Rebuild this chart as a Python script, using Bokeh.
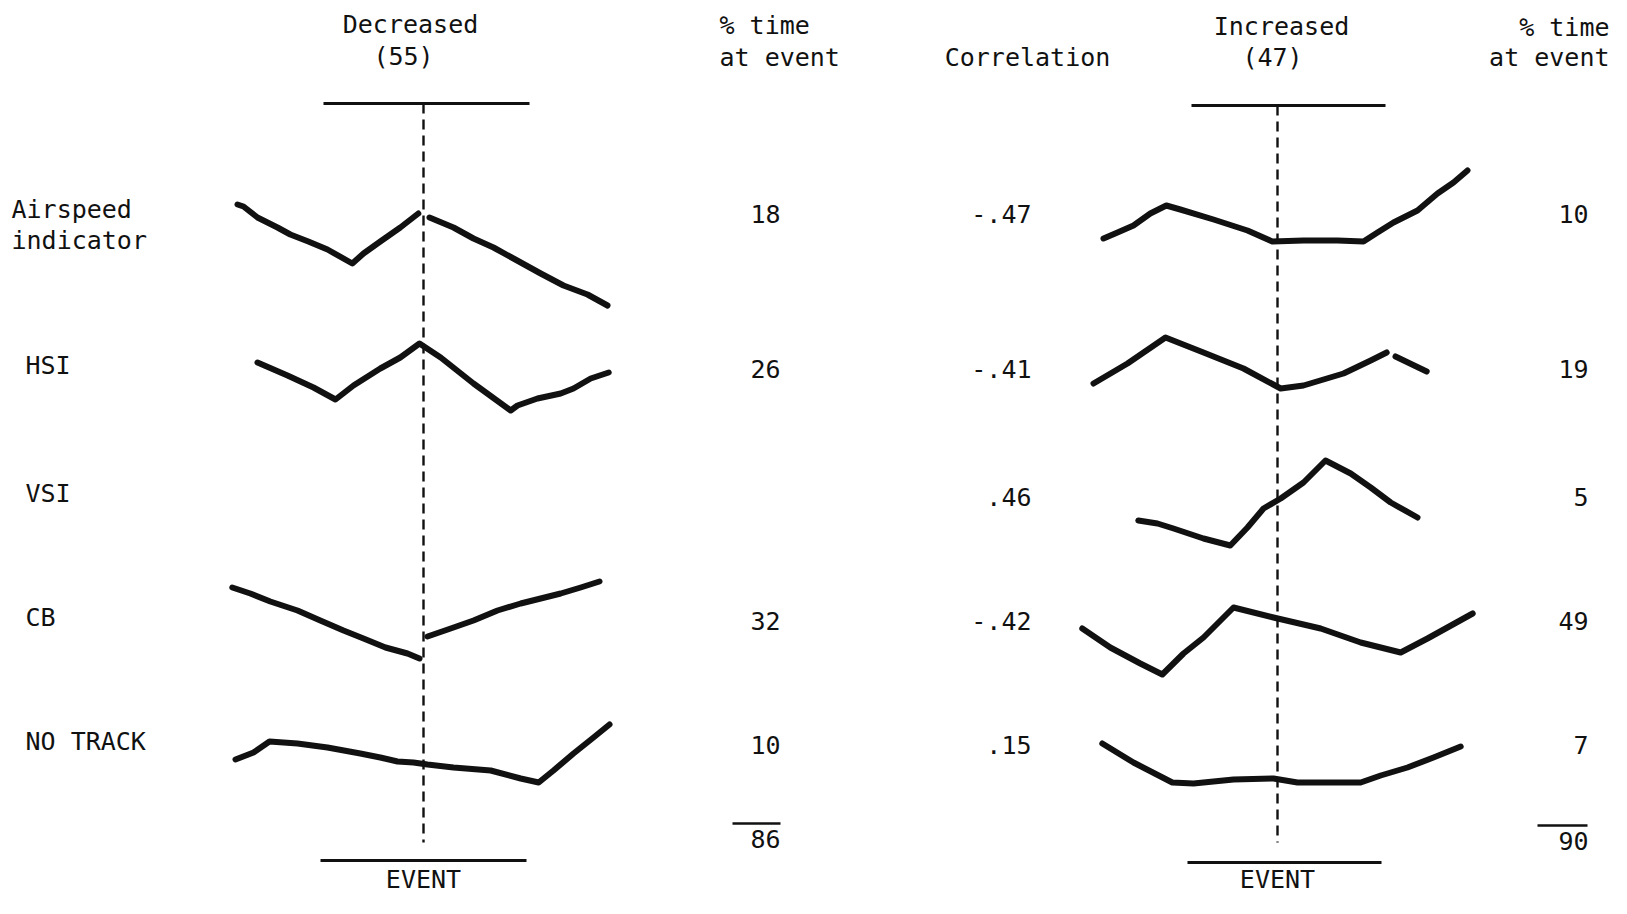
from bokeh.plotting import figure
from bokeh.models import Range1d
from bokeh.embed import file_html
from bokeh.resources import INLINE
from bokeh.core.properties import value

# ---------------- data ----------------
instruments = ["Airspeed indicator", "HSI", "VSI", "CB", "NO TRACK"]
n_decreased = 55
n_increased = 47
pct_decreased = [18, 26, None, 32, 10]
pct_decreased_total = 86
correlation = [-0.47, -0.41, 0.46, -0.42, 0.15]
pct_increased = [10, 19, 5, 49, 7]
pct_increased_total = 90

# Time relative to the event (arbitrary units) and relative fixation level,
# one list per drawn stroke (segments separated at gaps in the original).
dec_airspeed_t = [[-4.65, -4.5, -4.15, -3.65, -3.33, -2.88, -2.4, -1.78, -1.5, -1.08, -0.58, -0.13],
                  [0.15, 0.75, 1.25, 1.75, 2.25, 2.93, 3.5, 4.1, 4.6]]
dec_airspeed_v = [[0.9, 0.7, -0.4, -1.4, -2.1, -2.8, -3.6, -5.0, -4.0, -2.8, -1.4, 0.0],
                  [-0.4, -1.4, -2.5, -3.4, -4.5, -6.0, -7.2, -8.1, -9.2]]

dec_hsi_t = [[-4.15, -3.4, -2.75, -2.2, -1.75, -1.08, -0.58, -0.1, 0.43, 1.25, 2.18, 2.35, 2.85, 3.43, 3.75, 4.18, 4.63]]
dec_hsi_v = [[0.6, -0.7, -1.9, -3.1, -1.7, 0.0, 1.1, 2.5, 1.1, -1.5, -4.2, -3.7, -3.0, -2.5, -2.0, -1.0, -0.4]]

dec_vsi_t = []
dec_vsi_v = []

dec_cb_t = [[-4.78, -4.33, -3.83, -3.15, -2.58, -2.0, -1.5, -0.95, -0.4, -0.1],
            [0.1, 0.68, 1.25, 1.85, 2.43, 2.93, 3.43, 3.93, 4.4]]
dec_cb_v = [[3.3, 2.7, 1.9, 1.0, 0.0, -1.0, -1.8, -2.7, -3.3, -3.8],
            [-1.6, -0.8, 0.0, 1.0, 1.7, 2.2, 2.7, 3.3, 3.9]]

dec_notrack_t = [[-4.7, -4.25, -3.85, -3.15, -2.4, -1.58, -1.08, -0.65, -0.25, 0.1, 0.75, 1.68, 2.43, 2.88, 3.25, 3.75, 4.25, 4.65]]
dec_notrack_v = [[-1.5, -0.8, 0.3, 0.1, -0.3, -0.9, -1.3, -1.7, -1.8, -2.0, -2.3, -2.6, -3.4, -3.8, -2.6, -0.9, 0.7, 2.0]]

inc_airspeed_t = [[-4.35, -4.0, -3.6, -3.18, -2.78, -2.43, -1.6, -0.75, -0.13, 0.65, 1.5, 2.15, 2.5, 2.9, 3.5, 4.0, 4.4, 4.75]]
inc_airspeed_v = [[-2.5, -1.9, -1.2, 0.0, 0.8, 0.4, -0.6, -1.7, -2.8, -2.7, -2.7, -2.8, -1.9, -0.9, 0.3, 2.0, 3.1, 4.3]]

inc_hsi_t = [[-4.6, -3.75, -2.8, -1.85, -0.85, 0.08, 0.65, 1.65, 2.33, 2.73],
             [2.95, 3.73]]
inc_hsi_v = [[-1.5, 0.5, 3.1, 1.6, 0.0, -2.0, -1.7, -0.5, 0.8, 1.6],
             [1.2, -0.3]]

inc_vsi_t = [[-3.48, -3.0, -2.6, -1.85, -1.18, -0.75, -0.35, 0.08, 0.65, 1.2, 1.83, 2.33, 2.83, 3.5]]
inc_vsi_v = [[-2.4, -2.7, -3.2, -4.2, -4.9, -3.1, -1.2, -0.2, 1.4, 3.6, 2.3, 0.9, -0.6, -2.1]]

inc_cb_t = [[-4.88, -4.18, -3.43, -2.88, -2.35, -1.85, -1.1, -0.1, 1.08, 2.08, 3.08, 3.75, 4.88]]
inc_cb_v = [[-0.8, -2.7, -4.3, -5.4, -3.3, -1.7, 1.3, 0.3, -0.8, -2.2, -3.2, -1.8, 0.7]]

inc_notrack_t = [[-4.38, -3.6, -2.63, -2.1, -1.1, -0.1, 0.5, 2.08, 2.58, 3.25, 3.9, 4.58]]
inc_notrack_v = [[0.1, -1.8, -3.8, -3.9, -3.5, -3.4, -3.8, -3.8, -3.1, -2.3, -1.3, -0.2]]

decreased_t = [dec_airspeed_t, dec_hsi_t, dec_vsi_t, dec_cb_t, dec_notrack_t]
decreased_v = [dec_airspeed_v, dec_hsi_v, dec_vsi_v, dec_cb_v, dec_notrack_v]
increased_t = [inc_airspeed_t, inc_hsi_t, inc_vsi_t, inc_cb_t, inc_notrack_t]
increased_v = [inc_airspeed_v, inc_hsi_v, inc_vsi_v, inc_cb_v, inc_notrack_v]

# ---------------- layout ----------------
W, H = 1611, 898
FONT = value("DejaVu Sans Mono")
FS = "25px"
INK = "#111111"

row_y = [213, 368, 496, 620, 744]
event_x = [423, 1277]
t_scale = 40.0   # px per time unit
v_scale = 10.0   # px per level unit

p = figure(width=W, height=H, output_backend="svg", toolbar_location=None,
           x_range=Range1d(0, W), y_range=Range1d(H, 0),
           min_border=0, outline_line_color=None)
p.axis.visible = False
p.grid.visible = False
p.background_fill_color = "white"
p.border_fill_color = "white"


def txt(x, y, s, align="left", baseline="middle", size=FS):
    p.text(x=[x], y=[y], text=[s], text_font=FONT, text_font_size=size,
           text_color=INK, text_align=align, text_baseline=baseline)


# headers
txt(410, 24, "Decreased", "center")
txt(403, 56, f"({n_decreased})", "center")
txt(719, 25, "% time")
txt(719, 57, "at event")
txt(1027, 57, "Correlation", "center")
txt(1281, 26, "Increased", "center")
txt(1272, 57, f"({n_increased})", "center")
txt(1609, 27, "% time", "right")
txt(1609, 57, "at event", "right")

# row labels
label_x = [11, 25, 25, 25, 25]
for i, name in enumerate(instruments):
    if name == "Airspeed indicator":
        txt(label_x[i], row_y[i] - 4, "Airspeed")
        txt(label_x[i], row_y[i] + 27, "indicator")
    else:
        txt(label_x[i], row_y[i] - 3, name)

# numeric columns
def fmt_r(r):
    s = f"{r:.2f}"
    return s.replace("0.", ".", 1)

for i in range(len(instruments)):
    if pct_decreased[i] is not None:
        txt(780, row_y[i], str(pct_decreased[i]), "right")
    txt(1031, row_y[i], fmt_r(correlation[i]), "right")
    txt(1588, row_y[i], str(pct_increased[i]), "right")

txt(780, 838, str(pct_decreased_total), "right")
txt(1588, 840, str(pct_increased_total), "right")
p.segment(x0=[732, 1537], y0=[823, 825], x1=[780, 1587], y1=[823, 825],
          line_color=INK, line_width=2.5)

# event windows and markers
for ex, top_y, bot_y, l_top, r_top, l_bot, r_bot in [
        (423, 103, 860, 323, 529, 320, 526),
        (1277, 105, 862, 1191, 1385, 1187, 1381)]:
    p.segment(x0=[l_top, l_bot], y0=[top_y, bot_y], x1=[r_top, r_bot], y1=[top_y, bot_y],
              line_color=INK, line_width=3)
    p.segment(x0=[ex], y0=[top_y], x1=[ex], y1=[842],
              line_color=INK, line_width=2.4, line_dash="10 6")
    txt(ex, 879, "EVENT", "center")

# traces
for panel, (ts, vs) in enumerate([(decreased_t, decreased_v), (increased_t, increased_v)]):
    for r in range(len(instruments)):
        for seg_t, seg_v in zip(ts[r], vs[r]):
            xs = [event_x[panel] + t * t_scale for t in seg_t]
            ys = [row_y[r] - v * v_scale for v in seg_v]
            p.line(xs, ys, line_color=INK, line_width=6,
                   line_join="round", line_cap="round")

open("out.html", "w").write(file_html(p, INLINE))
